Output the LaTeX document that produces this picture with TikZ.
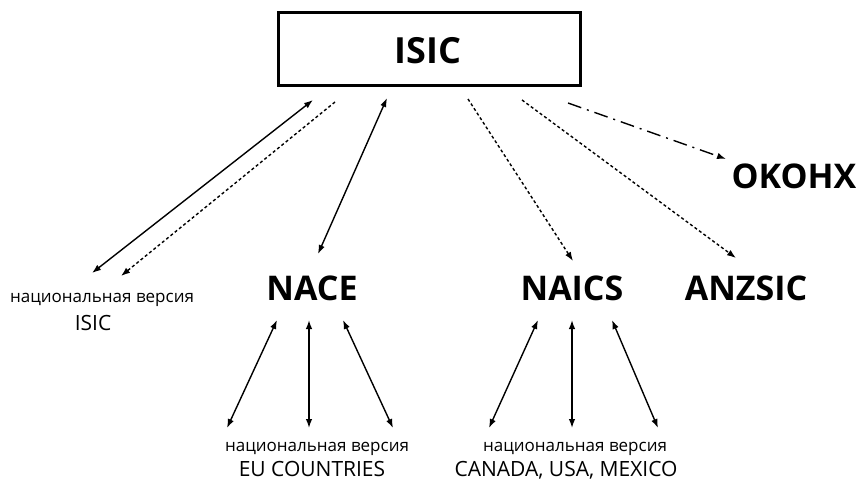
\documentclass[tikz,border=0pt]{standalone}
\usepackage{fontspec}
\setmainfont{Open Sans}
\usetikzlibrary{arrows.meta}
\begin{document}
\begin{tikzpicture}[x=1pt,y=-1pt,
  big/.style={font=\bfseries\fontsize{34}{38}\selectfont, inner sep=0pt, anchor=base},
  small/.style={font=\fontsize{17}{19}\selectfont, inner sep=0pt, anchor=base},
  capline/.style={font=\fontsize{21}{23}\selectfont, inner sep=0pt, anchor=base},
  link/.style={line width=1.4pt, -{Latex[length=9pt,width=6.5pt]}},
  both/.style={link, {Latex[length=9pt,width=6.5pt]}-{Latex[length=9pt,width=6.5pt]}},
  dots/.style={link, dash pattern=on 3pt off 2.5pt},
  dashdot/.style={link, dash pattern=on 14pt off 6pt on 2pt off 6pt}]
\useasboundingbox (0,0) rectangle (856,482);
% top box
\draw[line width=3pt] (278,12) rectangle (580,85);
\node[font=\bfseries\fontsize{36}{40}\selectfont, inner sep=0pt, anchor=base] (isic) at (428,63) {ISIC};
% classifications
\node[big] (nace) at (312,300) {NACE};
\node[big] (naics) at (572,300) {NAICS};
\node[big] (anz) at (746,300) {ANZSIC};
\node[big] (okonh) at (794,188) {OKOHX};
% national versions
\node[small] (natl) at (102,302) {национальная версия};
\node[capline] (isicl) at (93,330) {ISIC};
\node[small] (nate) at (317,451) {национальная версия};
\node[capline] (eu) at (312,476) {EU COUNTRIES};
\node[small] (natn) at (575,451) {национальная версия};
\node[capline] (cum) at (566,476) {CANADA, USA, MEXICO};
% end points of connectors
\coordinate (a1) at (313,100); \coordinate (b1) at (92,273);
\coordinate (a2) at (335,102); \coordinate (b2) at (121,276);
\coordinate (a3) at (387,98);  \coordinate (b3) at (318,254);
\coordinate (a4) at (468,99);  \coordinate (b4) at (573,261);
\coordinate (a5) at (522,100); \coordinate (b5) at (736,258);
\coordinate (a6) at (568,103); \coordinate (b6) at (726,159);
\coordinate (n1) at (277,320); \coordinate (m1) at (227,428);
\coordinate (n2) at (309,320); \coordinate (m2) at (309,428);
\coordinate (n3) at (343,320); \coordinate (m3) at (393,428);
\coordinate (s1) at (538,320); \coordinate (t1) at (489,428);
\coordinate (s2) at (572,320); \coordinate (t2) at (572,428);
\coordinate (s3) at (612,320); \coordinate (t3) at (658,428);
% connectors from ISIC
\draw[both] (a1) -- (b1);
\draw[dots] (a2) -- (b2);
\draw[both] (a3) -- (b3);
\draw[dots] (a4) -- (b4);
\draw[dots] (a5) -- (b5);
\draw[dashdot] (a6) -- (b6);
% connectors to national versions
\draw[both] (n1) -- (m1);
\draw[both] (n2) -- (m2);
\draw[both] (n3) -- (m3);
\draw[both] (s1) -- (t1);
\draw[both] (s2) -- (t2);
\draw[both] (s3) -- (t3);
\end{tikzpicture}
\end{document}
